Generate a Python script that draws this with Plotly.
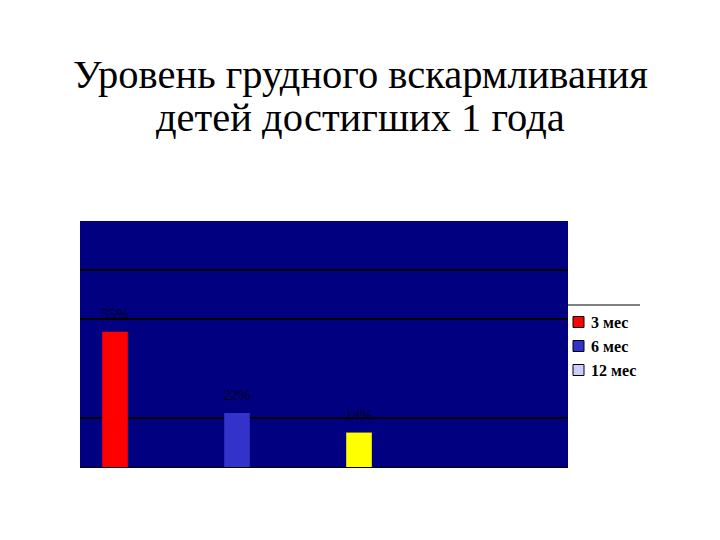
import plotly.graph_objects as go

categories = ["3 мес", "6 мес", "12 мес"]
values = [55, 22, 14]
labels = ["55%", "22%", "14%"]
bar_colors = ["#FF0000", "#3333CC", "#FFFF00"]
legend_names = ["3 мес", "6 мес", "12 мес"]
legend_colors = ["#FF0000", "#3333CC", "#CCCCFF"]
grid_ticks = [20, 60, 80]
title_lines = ["Уровень грудного вскармливания", "детей достигших 1 года"]

SERIF = "Liberation Serif"

fig = go.Figure()
fig.add_trace(go.Bar(
    x=categories, y=values, width=0.21,
    marker=dict(color=bar_colors, line=dict(width=0)),
    showlegend=False,
))
for c, v, t in zip(categories, values, labels):
    fig.add_annotation(x=c, y=v, text=t, showarrow=False, yshift=18,
                       yanchor="middle",
                       font=dict(family=SERIF, size=15, color="#00001a"))

px = 1 / 488
py = 1 / 246
for i, (name, col) in enumerate(zip(legend_names, legend_colors)):
    yc = (467 - (322 + 24 * i)) * py
    fig.add_shape(type="rect", xref="paper", yref="paper",
                  x0=1 + 5 * px, x1=1 + 16 * px,
                  y0=yc - 5.5 * py, y1=yc + 5.5 * py,
                  fillcolor=col, line=dict(color="black", width=1))
    fig.add_annotation(xref="paper", yref="paper", x=1 + 21 * px, y=yc,
                       xanchor="left", yanchor="middle", text="<b>" + name + "</b>",
                       showarrow=False,
                       font=dict(family=SERIF, size=16, color="black"))
fig.add_shape(type="line", xref="paper", yref="paper", x0=1.0, x1=1 + 72 * px,
              y0=(467 - 305) * py, y1=(467 - 305) * py,
              line=dict(color="black", width=1))

for i, line in enumerate(title_lines):
    fig.add_annotation(xref="paper", yref="paper", x=(360 - 80) * px,
                       y=(467 - (75 + 43 * i)) * py, xanchor="center",
                       yanchor="middle", text=line, showarrow=False,
                       font=dict(family=SERIF, size=40.5, color="black"))

fig.update_layout(
    width=720, height=540,
    margin=dict(l=72, r=160, t=213, b=81),
    paper_bgcolor="white", plot_bgcolor="#000080",
    showlegend=False,
    xaxis=dict(type="category", range=[-0.287, 3.713], showticklabels=False,
               showgrid=False, zeroline=False, showline=True, linecolor="black",
               linewidth=1, ticks=""),
    yaxis=dict(range=[0, 100], tickvals=grid_ticks, showticklabels=False,
               showgrid=True, gridcolor="black", gridwidth=2, zeroline=False,
               showline=False, ticks=""),
    font=dict(family=SERIF),
)

fig.write_html("out.html")
